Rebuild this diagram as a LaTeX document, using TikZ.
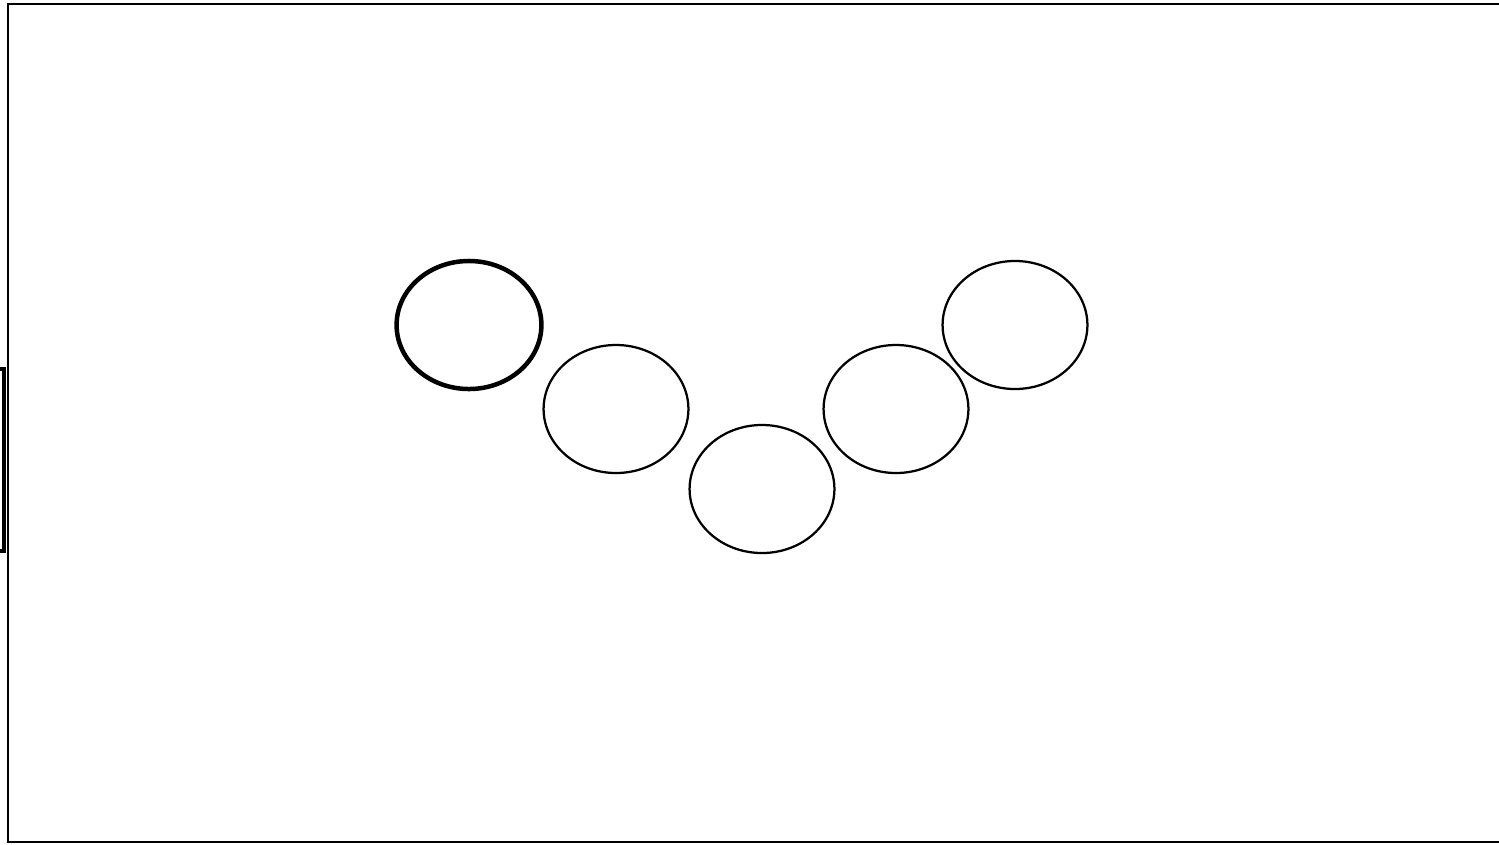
\documentclass[tikz,border=0pt]{standalone}
\usetikzlibrary{shapes.geometric}
\begin{document}
\begin{tikzpicture}[x=0.025cm,y=-0.025cm,
  oval/.style={ellipse,draw=black,line width=1.6pt,minimum width=3.62cm,minimum height=3.2cm,inner sep=0pt},
  thickoval/.style={oval,line width=3.2pt},
  frame/.style={draw=black,line width=2pt},
  sidebox/.style={draw=black,line width=2.8pt}]
\useasboundingbox (0,0) rectangle (1499,844);
\begin{scope}
\clip (0,0) rectangle (1499,844);
\draw[frame] (8,4) rectangle (1520,842);
\draw[sidebox] (-10,369) rectangle (4,551);
\end{scope}
\node[thickoval] (e1) at (469,325) {};
\node[oval] (e2) at (616,409) {};
\node[oval] (e3) at (762,489) {};
\node[oval] (e4) at (896,409) {};
\node[oval] (e5) at (1015,325) {};
\end{tikzpicture}
\end{document}
